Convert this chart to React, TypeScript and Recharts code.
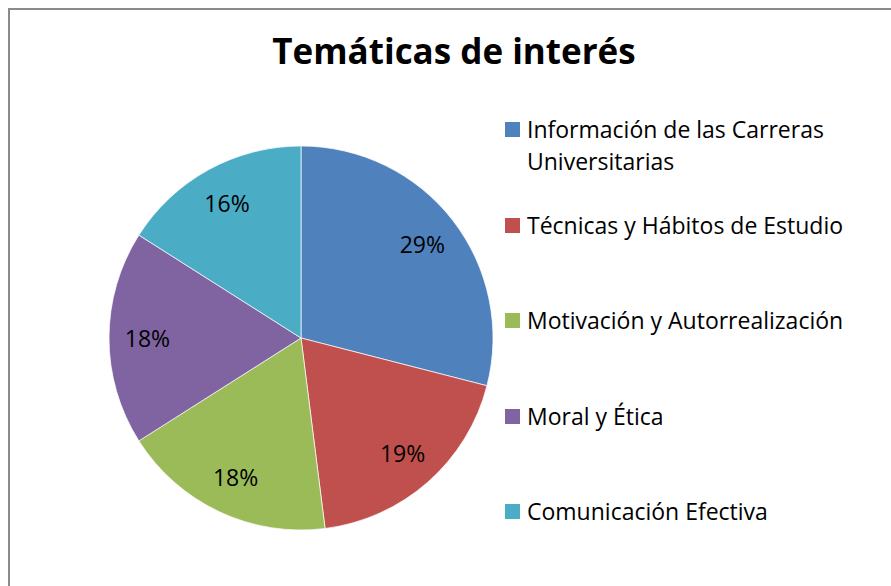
import React from 'react';
import { PieChart, Pie, Cell, Legend } from 'recharts';

const categories = [
  'Información de las Carreras Universitarias',
  'Técnicas y Hábitos de Estudio',
  'Motivación y Autorrealización',
  'Moral y Ética',
  'Comunicación Efectiva',
];
const shares = [29, 19, 18, 18, 16];
const colors = ['#4F81BD', '#C0504D', '#9BBB59', '#8064A2', '#4BACC6'];

const data = categories.map((name, i) => ({ name, value: shares[i] }));

const FONT = '"Open Sans", Lato, sans-serif';
const RAD = Math.PI / 180;

const renderLabel = ({ cx, cy, midAngle, outerRadius, value }: any) => {
  const r = outerRadius * 0.8;
  const x = cx + r * Math.cos(-midAngle * RAD);
  const y = cy + r * Math.sin(-midAngle * RAD);
  return (
    <text x={x} y={y} textAnchor="middle" dominantBaseline="central" fill="#000" fontSize={23} fontFamily={FONT}>
      {`${value}%`}
    </text>
  );
};

// legend drawn from our own arrays so the order stays as in the source
const renderLegend = () => (
  <div style={{ fontFamily: FONT, fontSize: 23, lineHeight: '32px', color: '#000' }}>
    {categories.map((name, i) => (
      <div key={name} style={{ display: 'flex', alignItems: 'flex-start', height: 95.5 }}>
        <span
          style={{
            width: 15,
            height: 15,
            background: colors[i],
            marginTop: 9,
            marginRight: 7,
            flex: 'none',
          }}
        />
        <span style={{ maxWidth: 345 }}>{name}</span>
      </div>
    ))}
  </div>
);

export default function App() {
  // frame runs off the right and bottom edges like the cropped original
  return (
    <div
      style={{
        position: 'fixed',
        left: 8,
        top: 8,
        width: 900,
        height: 600,
        borderTop: '2px solid #8a8a8a',
        borderLeft: '2px solid #8a8a8a',
        boxSizing: 'border-box',
        background: '#fff',
        overflow: 'hidden',
      }}
    >
      <div
        style={{
          position: 'absolute',
          left: 214,
          width: 460,
          top: 17,
          textAlign: 'center',
          fontFamily: FONT,
          fontWeight: 700,
          fontSize: 35,
          lineHeight: '48px',
          color: '#000',
          whiteSpace: 'nowrap',
        }}
      >
        Temáticas de interés
      </div>
      <PieChart width={890} height={590} margin={{ top: 0, right: 0, bottom: 0, left: 0 }}>
        <Pie
          data={data}
          dataKey="value"
          nameKey="name"
          cx={291}
          cy={328}
          outerRadius={192}
          startAngle={90}
          endAngle={-270}
          label={renderLabel}
          labelLine={false}
          stroke="#ffffff"
          strokeWidth={0.7}
          isAnimationActive={false}
        >
          {data.map((d, i) => (
            <Cell key={d.name} fill={colors[i]} />
          ))}
        </Pie>
        <Legend
          layout="vertical"
          align="right"
          verticalAlign="top"
          content={renderLegend}
          wrapperStyle={{ left: 495, top: 103, width: 385 }}
        />
      </PieChart>
    </div>
  );
}
